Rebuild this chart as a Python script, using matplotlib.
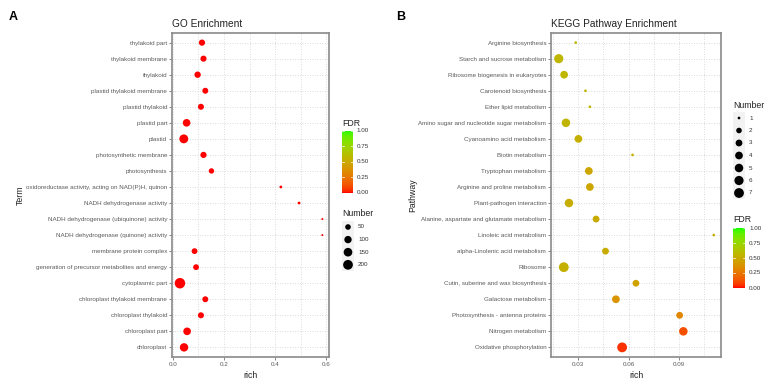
import numpy as np
import matplotlib
matplotlib.use("Agg")
import matplotlib.pyplot as plt
from matplotlib.colors import ListedColormap

plt.rcParams['font.family'] = ['Liberation Sans', 'DejaVu Sans']

# ---- data: GO enrichment (top to bottom) ----
go_terms = ['thylakoid part', 'thylakoid membrane', 'thylakoid', 'plastid thylakoid membrane',
            'plastid thylakoid', 'plastid part', 'plastid', 'photosynthetic membrane',
            'photosynthesis', 'oxidoreductase activity, acting on NAD(P)H, quinon',
            'NADH dehydrogenase activity', 'NADH dehydrogenase (ubiquinone) activity',
            'NADH dehydrogenase (quinone) activity', 'membrane protein complex',
            'generation of precursor metabolites and energy', 'cytoplasmic part',
            'chloroplast thylakoid membrane', 'chloroplast thylakoid', 'chloroplast part',
            'chloroplast']
go_rich = [0.114, 0.120, 0.097, 0.127, 0.110, 0.054, 0.043, 0.120, 0.151, 0.422,
           0.493, 0.584, 0.584, 0.085, 0.091, 0.028, 0.127, 0.110, 0.056, 0.044]
go_number = [65, 62, 70, 58, 60, 110, 160, 65, 45, 10,
             10, 8, 8, 55, 55, 240, 58, 60, 110, 140]
go_fdr = [0.0] * 20
go_size_breaks = [50, 100, 150, 200]

# ---- data: KEGG enrichment (top to bottom) ----
kegg_terms = ['Arginine biosynthesis', 'Starch and sucrose metabolism',
              'Ribosome biogenesis in eukaryotes', 'Carotenoid biosynthesis',
              'Ether lipid metabolism', 'Amino sugar and nucleotide sugar metabolism',
              'Cyanoamino acid metabolism', 'Biotin metabolism', 'Tryptophan metabolism',
              'Arginine and proline metabolism', 'Plant-pathogen interaction',
              'Alanine, aspartate and glutamate metabolism', 'Linoleic acid metabolism',
              'alpha-Linolenic acid metabolism', 'Ribosome',
              'Cutin, suberine and wax biosynthesis', 'Galactose metabolism',
              'Photosynthesis - antenna proteins', 'Nitrogen metabolism',
              'Oxidative phosphorylation']
kegg_rich = [0.0286, 0.0185, 0.0217, 0.0344, 0.0370, 0.0228, 0.0302, 0.0624, 0.0364, 0.0370,
             0.0246, 0.0407, 0.1107, 0.0463, 0.0215, 0.0644, 0.0525, 0.0904, 0.0926, 0.0562]
kegg_number = [1, 6, 4, 1, 1, 5, 4, 1, 4, 4, 5, 3, 1, 3, 7, 3, 4, 3, 5, 7]
kegg_fdr = [0.56, 0.56, 0.56, 0.56, 0.56, 0.55, 0.53, 0.53, 0.47, 0.47,
            0.51, 0.50, 0.50, 0.50, 0.53, 0.45, 0.38, 0.32, 0.12, 0.05]
kegg_size_breaks = [1, 2, 3, 4, 5, 6, 7]
fdr_breaks = [0.0, 0.25, 0.5, 0.75, 1.0]


# red -> green gradient interpolated in Lab (like ggplot)
def srgb_to_lab(rgb):
    c = np.asarray(rgb, float)
    lin = np.where(c <= 0.04045, c / 12.92, ((c + 0.055) / 1.055) ** 2.4)
    M = np.array([[0.4124, 0.3576, 0.1805], [0.2126, 0.7152, 0.0722], [0.0193, 0.1192, 0.9505]])
    xyz = M @ lin / np.array([0.95047, 1.0, 1.08883])
    f = np.where(xyz > 0.008856, np.cbrt(xyz), 7.787 * xyz + 16 / 116)
    return np.array([116 * f[1] - 16, 500 * (f[0] - f[1]), 200 * (f[1] - f[2])])


def lab_to_srgb(lab):
    L, a, b = lab
    fy = (L + 16) / 116
    fx = fy + a / 500
    fz = fy - b / 200
    f = np.array([fx, fy, fz])
    xyz = np.where(f ** 3 > 0.008856, f ** 3, (f - 16 / 116) / 7.787) * np.array([0.95047, 1.0, 1.08883])
    Minv = np.array([[3.2406, -1.5372, -0.4986], [-0.9689, 1.8758, 0.0415], [0.0557, -0.2040, 1.0570]])
    lin = np.clip(Minv @ xyz, 0, 1)
    c = np.where(lin <= 0.0031308, 12.92 * lin, 1.055 * lin ** (1 / 2.4) - 0.055)
    return np.clip(c, 0, 1)


lab_lo = srgb_to_lab([1, 0, 0])
lab_hi = srgb_to_lab([0, 1, 0])
cmap = ListedColormap([lab_to_srgb(lab_lo + t * (lab_hi - lab_lo)) for t in np.linspace(0, 1, 256)])

W, H = 773, 391
fig = plt.figure(figsize=(W / 100, H / 100), dpi=100)
px = 0.72  # points per pixel


def sizes(n, nmin, nmax, dmin, dmax):
    n = np.asarray(n, float)
    d = dmin + (dmax - dmin) * np.sqrt(np.clip((n - nmin) / (nmax - nmin), 0, 1))
    return (d * px) ** 2


def fax(l, t, r, b):
    return fig.add_axes([l / W, 1 - b / H, (r - l) / W, (b - t) / H])


def dotplot(box, terms, rich, number, fdr, xlim, xmajor, xminor, xfmt, title, ylabel, smin, smax, dmin, dmax):
    ax = fax(*box)
    n = len(terms)
    y = np.arange(n)
    ax.set_xlim(*xlim)
    ax.set_ylim(n - 1 + 0.6, -0.6)
    ax.set_xticks(xmajor)
    ax.set_xticklabels([xfmt.format(v) for v in xmajor])
    ax.set_xticks(xminor, minor=True)
    ax.set_yticks(y)
    ax.set_yticklabels(terms)
    ax.grid(True, which='both', axis='x', color='#d0d0d0', linestyle=(0, (1, 2)), linewidth=0.6)
    ax.grid(True, axis='y', color='#d0d0d0', linestyle=(0, (1, 2)), linewidth=0.6)
    ax.set_axisbelow(True)
    ax.scatter(rich, y, s=sizes(number, smin, smax, dmin, dmax), c=fdr, cmap=cmap,
               vmin=0, vmax=1, linewidths=0, zorder=3)
    for sp in ax.spines.values():
        sp.set_color('#8a8a8a')
        sp.set_linewidth(1.2)
    ax.tick_params(axis='both', which='major', labelsize=4.5, labelcolor='#5a5a5a',
                   color='#555555', length=2, width=0.5, pad=1.5)
    ax.tick_params(axis='x', which='minor', length=0)
    ax.set_title(title, loc='left', fontsize=7.3, color='#222222', pad=4)
    ax.set_xlabel('rich', fontsize=6.3, color='#222222', labelpad=3)
    ax.set_ylabel(ylabel, fontsize=6.3, color='#222222')
    return ax


go_ax = dotplot((172, 33, 329, 357), go_terms, go_rich, go_number, go_fdr,
                (-0.003, 0.61), [0.0, 0.2, 0.4, 0.6], [0.1, 0.3, 0.5], '{:.1f}',
                'GO Enrichment', 'Term', min(go_number), max(go_number), 2.0, 10.5)

kegg_ax = dotplot((551, 33, 721, 357), kegg_terms, kegg_rich, kegg_number, kegg_fdr,
                  (0.0139, 0.115), [0.03, 0.06, 0.09], [0.015, 0.045, 0.075, 0.105], '{:.2f}',
                  'KEGG Pathway Enrichment', 'Pathway', 1, 7, 2.7, 9.8)

# y-label positions in pixels (right edge of rotated text)
go_ax.yaxis.set_label_coords((25 - 172) / 157, 0.5)
kegg_ax.yaxis.set_label_coords((417 - 551) / 170, 0.5)

# panel letters
fig.text(13 / W, 1 - 17 / H, 'A', fontsize=9, fontweight='bold', va='center', ha='center')
fig.text(401 / W, 1 - 17 / H, 'B', fontsize=9, fontweight='bold', va='center', ha='center')


# ---- legends ----
def colorbar(l, t, r, b, title_y):
    cax = fax(l, t, r, b)
    grad = np.linspace(1, 0, 200).reshape(-1, 1)
    cax.imshow(grad, aspect='auto', cmap=cmap, vmin=0, vmax=1, extent=(0, 1, 0, 1))
    cax.set_xticks([])
    cax.set_yticks([])
    for sp in cax.spines.values():
        sp.set_visible(False)
    for v in fdr_breaks:
        cax.plot([0, 0.2], [v, v], color='white', lw=0.5)
        cax.plot([0.8, 1], [v, v], color='white', lw=0.5)
        cax.text(1.35, v, '{:.2f}'.format(v), transform=cax.transAxes, fontsize=4.5,
                 color='#333333', va='center', ha='left')
    cax.set_xlim(0, 1)
    cax.set_ylim(0, 1)
    fig.text(l / W, 1 - title_y / H, 'FDR', fontsize=6.3, color='#222222', va='center', ha='left')


def size_legend(x, title_y, y0, step, breaks, smin, smax, dmin, dmax):
    lax = fax(0, 0, W, H)
    lax.set_xlim(0, W)
    lax.set_ylim(H, 0)
    lax.axis('off')
    ys = y0 + step * np.arange(len(breaks))
    lax.add_patch(plt.Rectangle((x - 6, ys[0] - step / 2), 12, step * len(breaks),
                                color='#f2f2f2', lw=0))
    lax.scatter(np.full(len(breaks), x), ys, s=sizes(breaks, smin, smax, dmin, dmax),
                color='black', linewidths=0)
    for yy, b in zip(ys, breaks):
        lax.text(x + 10, yy, str(b), fontsize=4.5, color='#333333', va='center', ha='left')
    lax.text(x - 6, title_y, 'Number', fontsize=6.3, color='#222222', va='center', ha='left')


colorbar(342, 131, 353, 193, 123)
size_legend(348, 213, 227, 12.6, go_size_breaks, min(go_number), max(go_number), 2.0, 10.5)

size_legend(739, 105, 118, 12.5, kegg_size_breaks, 1, 7, 2.7, 9.8)
colorbar(733, 228, 745, 288, 219)

fig.savefig('out.png', dpi=100)
